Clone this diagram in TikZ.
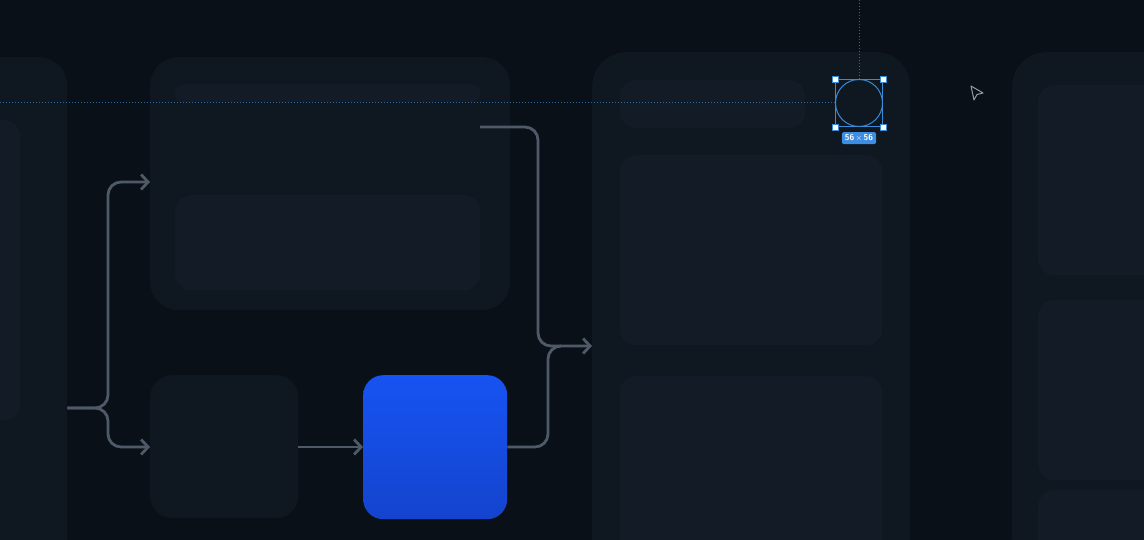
\documentclass[tikz,border=0pt]{standalone}
\usetikzlibrary{arrows.meta,positioning}

\definecolor{canvasbg}{HTML}{0A1018}
\definecolor{panelbg}{HTML}{0F1721}
\definecolor{innerbg}{HTML}{121B26}
\definecolor{wirecol}{HTML}{4E5A67}
\definecolor{selblue}{HTML}{3A8AD6}
\definecolor{guideblue}{HTML}{2B6AA3}
\definecolor{tagblue}{HTML}{3D8EE2}
\definecolor{bluetop}{HTML}{1753F2}
\definecolor{bluebot}{HTML}{1444CE}

\tikzset{
  panel/.style={fill=panelbg, draw=none, rounded corners=28pt, inner sep=0pt, anchor=north west},
  inner/.style={fill=innerbg, draw=none, rounded corners=16pt, inner sep=0pt, anchor=north west},
  wire/.style={draw=wirecol, line width=2.8pt, rounded corners=13pt},
  wirearrow/.style={wire, -{Straight Barb[length=7pt,width=15pt,line width=2.8pt]}},
  handle/.style={fill=white, draw=selblue, line width=0.8pt, minimum size=6pt, inner sep=0pt},
  guide/.style={draw=guideblue, line width=1pt, dash pattern=on 1.5pt off 1.5pt}
}

\begin{document}
\begin{tikzpicture}[x=1pt,y=-1pt]
\useasboundingbox (0,0) rectangle (1144,540);
\fill[canvasbg] (0,0) rectangle (1144,540);
\clip (0,0) rectangle (1144,540);

%columns
\node[panel, minimum width=110pt, minimum height=520pt] (leftcol) at (-43,57) {};
\node[inner, minimum width=50pt, minimum height=300pt] (leftinner) at (-30,120) {};

\node[panel, minimum width=360pt, minimum height=253pt] (topcard) at (150,57) {};
\node[inner, minimum width=305pt, minimum height=18pt, rounded corners=8pt] (topbar) at (175,84) {};
\node[inner, minimum width=305pt, minimum height=95pt] (topinner) at (175,195) {};

\node[panel, minimum width=148pt, minimum height=143pt, rounded corners=22pt] (smallcard) at (150,375) {};

\node[panel, minimum width=318pt, minimum height=520pt, rounded corners=34pt] (midcol) at (592,52) {};
\node[inner, minimum width=185pt, minimum height=48pt] (midbar) at (620,80) {};
\node[inner, minimum width=262pt, minimum height=190pt] (midbox) at (620,155) {};
\node[inner, minimum width=262pt, minimum height=190pt] (midlow) at (620,376) {};

\node[panel, minimum width=180pt, minimum height=520pt, rounded corners=34pt] (rightcol) at (1012,52) {};
\node[inner, minimum width=130pt, minimum height=190pt] (rightbox) at (1038,85) {};
\node[inner, minimum width=130pt, minimum height=180pt] (rightmid) at (1038,300) {};
\node[inner, minimum width=130pt, minimum height=80pt] (rightlow) at (1038,490) {};

%blue box
\node[rounded corners=20pt, top color=bluetop, bottom color=bluebot, draw=none,
      minimum width=144pt, minimum height=144pt, inner sep=0pt, anchor=north west] (bluebox) at (363,375) {};

%connectors
\coordinate (split) at (108,408);
\coordinate (merge) at (560,346);
\coordinate (topout) at (480,127);

\draw[wirearrow] (leftcol.east |- split) -- (split) -- (split |- 0,182) -- (topcard.west |- 0,182);
\draw[wirearrow] (leftcol.east |- split) -- (split) -- (split |- 0,447) -- (smallcard.west |- 0,447);
\draw[wirearrow] (smallcard.east |- 0,447) -- (bluebox.west |- 0,447);
\draw[wire] (bluebox.east |- 0,447) -- (548,447) -- (548,346) -- (merge);
\draw[wirearrow] (topout) -- (538,127) -- (538,346) -- (midcol.west |- merge);

%selection
\node[draw=selblue, line width=0.9pt, minimum size=47pt, inner sep=0pt] (frame) at (859,103) {};
\draw[selblue, line width=1pt] (frame.center) circle (23.5pt);
\coordinate (guideleft) at (0,103);
\coordinate (guidetop) at (859,0);
\draw[guide] (frame.west) -- (guideleft);
\draw[guide] (frame.north) -- (guidetop);
\node[handle] (hnw) at (frame.north west) {};
\node[handle] (hne) at (frame.north east) {};
\node[handle] (hsw) at (frame.south west) {};
\node[handle] (hse) at (frame.south east) {};

\node[fill=tagblue, rounded corners=2pt, text=white, font=\sffamily\bfseries\fontsize{8.5}{9}\selectfont,
      inner xsep=3pt, inner ysep=2.5pt, below=5pt of frame] (sizetag) {56\,$\times$\,56};

%cursor
\draw[draw=gray!80, fill=canvasbg, line width=1pt, line join=round]
  (971,86) -- (983,93) -- (977,94.5) -- (974,100) -- cycle;

\end{tikzpicture}
\end{document}
